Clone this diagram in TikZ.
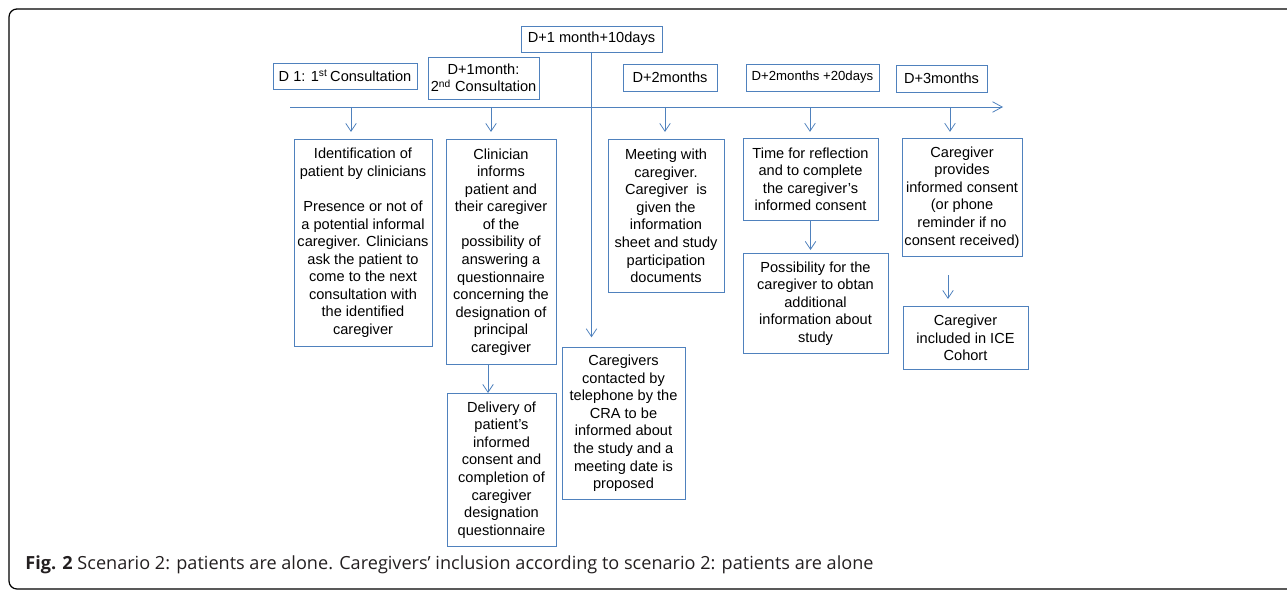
\documentclass[tikz,border=0pt]{standalone}
\usepackage{fontspec}
\setmainfont{Liberation Sans}
\newfontfamily\capfont{Open Sans}
\usetikzlibrary{arrows.meta}
\definecolor{tlblue}{RGB}{79,129,189}
\definecolor{capgray}{RGB}{35,31,32}
\tikzset{
  datebox/.style={draw=tlblue,line width=0.5pt,align=center,inner sep=1pt,font=\fontsize{8.3}{10}\selectfont},
  stagebox/.style={draw=tlblue,line width=0.5pt,align=center,inner sep=1pt,anchor=north,font=\fontsize{8.3}{10}\selectfont},
  flow/.style={draw=tlblue,line width=0.45pt,-{Straight Barb[length=4.5pt,width=6pt]}}
}
\begin{document}
\begin{tikzpicture}[x=0.02cm,y=-0.02cm]
\useasboundingbox (0,0) rectangle (1287,590);
\begin{scope}
\clip (0,0) rectangle (1287,590);
\draw[line width=0.7pt,rounded corners=4.5pt] (9,9) rectangle (1400,589);
\end{scope}
% dates above the time line
\node[datebox,minimum width=2.88cm,minimum height=0.52cm] (d1) at (345,76) {D 1: 1\textsuperscript{st}\,Consultation};
\node[datebox,minimum width=2.22cm,minimum height=0.84cm] (m1) at (483.5,78) {D+1month:\\2\textsuperscript{nd} Consultation};
\node[datebox,minimum width=2.82cm,minimum height=0.52cm] (m10) at (591.5,39) {D+1 month+10days};
\node[datebox,minimum width=1.88cm,minimum height=0.54cm] (m2) at (670,77.5) {D+2months};
\node[datebox,minimum width=2.66cm,minimum height=0.54cm,font=\fontsize{7.5}{9}\selectfont] (m2d) at (812.5,77.5) {D+2months +20days};
\node[datebox,minimum width=1.82cm,minimum height=0.54cm] (m3) at (941.5,78.5) {D+3months};
% time line
\coordinate (tstart) at (290,107); \coordinate (tend) at (1003,107);
\draw[tlblue,line width=0.45pt,-{Straight Barb[length=5.5pt,width=6pt]}] (tstart) -- (tend);
% stages
\node[stagebox,minimum width=2.76cm,minimum height=4.14cm] (ident) at (363,139) {Identification of\\patient by clinicians\\[10pt]Presence or not of\\a potential informal\\caregiver. Clinicians\\ask the patient to\\come to the next\\consultation with\\the identified\\caregiver};
\node[stagebox,minimum width=2.2cm,minimum height=4.5cm] (inform) at (501,139) {Clinician\\informs\\patient and\\their caregiver\\of the\\possibility of\\answering a\\questionnaire\\concerning the\\designation of\\principal\\caregiver};
\node[stagebox,minimum width=2.18cm,minimum height=3.06cm] (deliver) at (501.5,393) {Delivery of\\patient’s\\informed\\consent and\\completion of\\caregiver\\designation\\questionnaire};
\node[stagebox,minimum width=2.46cm,minimum height=3.04cm] (contact) at (623.5,347) {Caregivers\\contacted by\\telephone by the\\CRA to be\\informed about\\the study and a\\meeting date is\\proposed};
\node[stagebox,minimum width=2.32cm,minimum height=3.06cm] (meet) at (666,139) {Meeting with\\caregiver.\\Caregiver\ \ is\\given the\\information\\sheet and study\\participation\\documents};
\node[stagebox,minimum width=2.7cm,minimum height=1.64cm] (reflect) at (810.5,138) {Time for reflection\\and to complete\\the caregiver’s\\informed consent};
\node[stagebox,minimum width=2.9cm,minimum height=2cm] (obtain) at (815.5,253) {Possibility for the\\caregiver to obtan\\additional\\information about\\study};
\node[stagebox,minimum width=2.4cm,minimum height=2.36cm] (consent) at (962,138) {Caregiver\\provides\\informed consent\\(or phone\\reminder if no\\consent received)};
\node[stagebox,minimum width=2.5cm,minimum height=1.26cm] (icc) at (965.5,306) {Caregiver\\included in ICE\\Cohort};
% arrows
\coordinate (a1) at (351,107); \coordinate (a2) at (491,107); \coordinate (a3) at (665,107);
\coordinate (a4) at (810,107); \coordinate (a5) at (950,107);
\draw[flow,shorten >=4pt] (a1) -- (a1 |- ident.north);
\draw[flow,shorten >=4pt] (a2) -- (a2 |- inform.north);
\draw[flow,shorten >=4pt] (a3) -- (a3 |- meet.north);
\draw[flow,shorten >=3.5pt] (a4) -- (a4 |- reflect.north);
\draw[flow,shorten >=3.5pt] (a5) -- (a5 |- consent.north);
\draw[flow,shorten >=5.5pt] (m10.south) -- (m10.south |- contact.north);
\coordinate (b1) at (488,0); \coordinate (e1) at (948,0);
\draw[flow] (b1 |- inform.south) -- (b1 |- deliver.north);
\draw[flow,shorten >=1.7pt] (reflect.south) -- (reflect.south |- obtain.north);
\draw[flow,shorten <=10.5pt,shorten >=4pt] (e1 |- consent.south) -- (e1 |- icc.north);
% caption
\node[anchor=base west,inner sep=0,text=capgray,font=\capfont\fontsize{10.3}{12}\selectfont] (cap) at (25,569) {\textbf{Fig. 2} Scenario 2: patients are alone. Caregivers’ inclusion according to scenario 2: patients are alone};
\end{tikzpicture}
\end{document}
